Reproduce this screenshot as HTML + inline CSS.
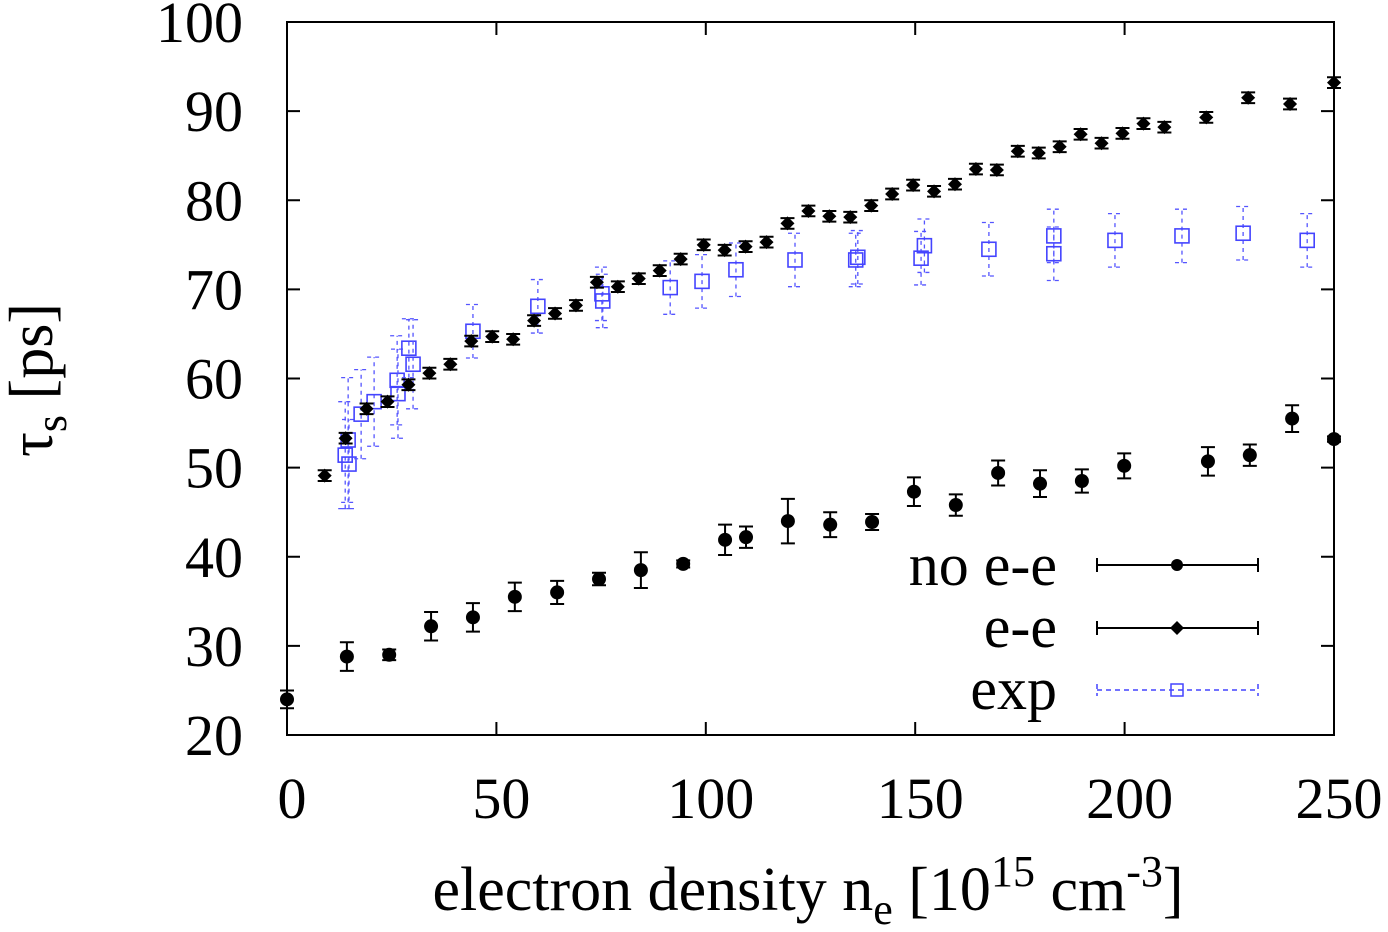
<!DOCTYPE html>
<html><head><meta charset="utf-8"><style>
body{margin:0;background:#fff}
svg{display:block;font-family:"Liberation Serif",serif}
</style></head><body>
<svg id="chart" width="1388" height="932" viewBox="0 0 1388 932" xmlns="http://www.w3.org/2000/svg">
<rect x="287" y="22" width="1047" height="713" fill="none" stroke="#000" stroke-width="2"/>
<g id="axes"></g>
<g id="marks"></g>
<text x="808" y="910" font-size="62" text-anchor="middle">electron density n<tspan font-size="44" dy="14">e</tspan><tspan dy="-14"> [10</tspan><tspan font-size="44" dy="-24">15</tspan><tspan dy="24"> cm</tspan><tspan font-size="44" dy="-24">-3</tspan><tspan dy="24">]</tspan></text>
<text transform="translate(52,380) rotate(-90)" font-size="62" text-anchor="middle">τ<tspan font-size="44" dy="14">s</tspan><tspan dy="-14"> [ps]</tspan></text>
<g>
<text x="1057" y="585" font-size="60" text-anchor="end">no e-e</text>
<text x="1057" y="647" font-size="60" text-anchor="end">e-e</text>
<text x="1057" y="709" font-size="60" text-anchor="end">exp</text>
<path d="M1097 565H1258M1097 558V572M1258 558V572" stroke="#000" stroke-width="2"/>
<circle cx="1177" cy="565" r="6"/>
<path d="M1097 628H1258M1097 621V635M1258 621V635" stroke="#000" stroke-width="2"/>
<path d="M1177 621L1184 628L1177 635L1170 628Z"/>
<path d="M1097 690H1258M1097 684V696M1258 684V696" stroke="#44f" stroke-width="1.5" stroke-dasharray="5,4"/>
<rect x="1171" y="684" width="12" height="12" fill="none" stroke="#44f" stroke-width="1.5"/>
</g>
</svg>
<script>
const xTicks=[0,50,100,150,200,250];
const yTicks=[20,30,40,50,60,70,80,90,100];
const noeeX=[0,14.3,24.4,34.4,44.4,54.4,64.5,74.5,84.5,94.6,104.6,109.6,119.6,129.7,139.7,149.7,159.7,169.8,179.8,189.8,199.9,219.9,229.9,240,250];
const noeeY=[24.0,28.8,29.0,32.2,33.2,35.5,36.0,37.5,38.5,39.2,41.9,42.2,44.0,43.6,43.9,47.3,45.8,49.4,48.2,48.5,50.2,50.7,51.4,55.5,53.2];
const noeeErr=[1,1.6,0.6,1.6,1.6,1.6,1.3,0.7,2,0.4,1.7,1.2,2.5,1.4,0.9,1.6,1.2,1.4,1.5,1.3,1.4,1.6,1.2,1.5,0.3];
const eeX=[9,14,19,24,29,34,39,44,49,54,59,64,69,74,79,84,89,94,99.5,104.5,109.5,114.5,119.5,124.5,129.5,134.5,139.5,144.5,149.5,154.5,159.5,164.5,169.5,174.5,179.5,184.5,189.5,194.5,199.5,204.5,209.5,219.5,229.5,239.5,250];
const eeY=[49.1,53.3,56.6,57.4,59.3,60.6,61.6,64.2,64.7,64.4,66.5,67.3,68.2,70.8,70.3,71.2,72.1,73.4,75.0,74.4,74.8,75.3,77.4,78.8,78.2,78.1,79.4,80.7,81.7,81.0,81.8,83.5,83.4,85.5,85.3,86.0,87.4,86.4,87.5,88.6,88.2,89.3,91.5,90.8,93.2];
const expX=[14.6,13.9,14.8,17.7,20.8,26.3,26.5,29.1,30.1,44.4,59.9,75.2,75.4,91.5,99.1,107.2,121.3,136.3,135.8,151.4,152.2,167.6,183.1,183.1,197.7,213.7,228.3,243.6];
const expY=[53.1,51.4,50.4,56.0,57.4,59.8,58.3,63.4,61.6,65.3,68.1,69.5,68.7,70.2,70.9,72.2,73.3,73.6,73.3,73.5,74.9,74.5,76.0,74.0,75.5,76.0,76.3,75.5];
const expErr=[7,6,5,5,5,5,5,3.3,5,3,3,3,3,3,3,3,3,3,3,3,3,3,3,3,3,3,3,3];
const X=v=>287+v*(1334-287)/250;
const Y=v=>735-(v-20)*(735-22)/80;
const NS="http://www.w3.org/2000/svg";
function mk(tag,attrs,parent){const e=document.createElementNS(NS,tag);for(const k in attrs)e.setAttribute(k,attrs[k]);parent.appendChild(e);return e;}
const axes=document.getElementById('axes'),marks=document.getElementById('marks');
xTicks.forEach(t=>{
 const l=mk('path',{d:`M${X(t)} 735v-13M${X(t)} 22v13`,stroke:'#000','stroke-width':2},axes);
 
 
 const tx=mk('text',{x:X(t)+5,y:818,'font-size':58,'text-anchor':'middle'},axes);tx.textContent=t;
 
 
});
yTicks.forEach(t=>{
 const l=mk('path',{d:`M287 ${Y(t)}h13M1334 ${Y(t)}h-13`,stroke:'#000','stroke-width':2},axes);
 
 
 const tx=mk('text',{x:243,y:Y(t)+20,'font-size':58,'text-anchor':'end'},axes);tx.textContent=t;
 
 
});
function ebar(x,y,e,color,dash,w){
 const cx=X(x),y1=Y(y-e),y2=Y(y+e);
 const p=mk('path',{d:`M${cx} ${y1}V${y2}M${cx-7} ${y1}h14M${cx-7} ${y2}h14`,stroke:color,'stroke-width':w,fill:'none'},marks);
 if(dash)p.setAttribute('stroke-dasharray',dash);
 
 
}
expX.forEach((x,i)=>{
 ebar(x,expY[i],expErr[i],'#55f','4,4',1.3);
 const r=mk('rect',{x:X(x)-7,y:Y(expY[i])-7,width:14,height:14,fill:'none',stroke:'#44f','stroke-width':1.6},marks);
 
 
});
eeX.forEach((x,i)=>{
 ebar(x,eeY[i],0.6,'#000',null,2);
 const cx=X(x),cy=Y(eeY[i]);
 const d=mk('path',{d:`M${cx} ${cy-7}L${cx+7} ${cy}L${cx} ${cy+7}L${cx-7} ${cy}Z`},marks);
 
 
});
noeeX.forEach((x,i)=>{
 ebar(x,noeeY[i],noeeErr[i],'#000',null,2);
 const c=mk('circle',{cx:X(x),cy:Y(noeeY[i]),r:7},marks);
 
 
});
</script>
</body></html>
